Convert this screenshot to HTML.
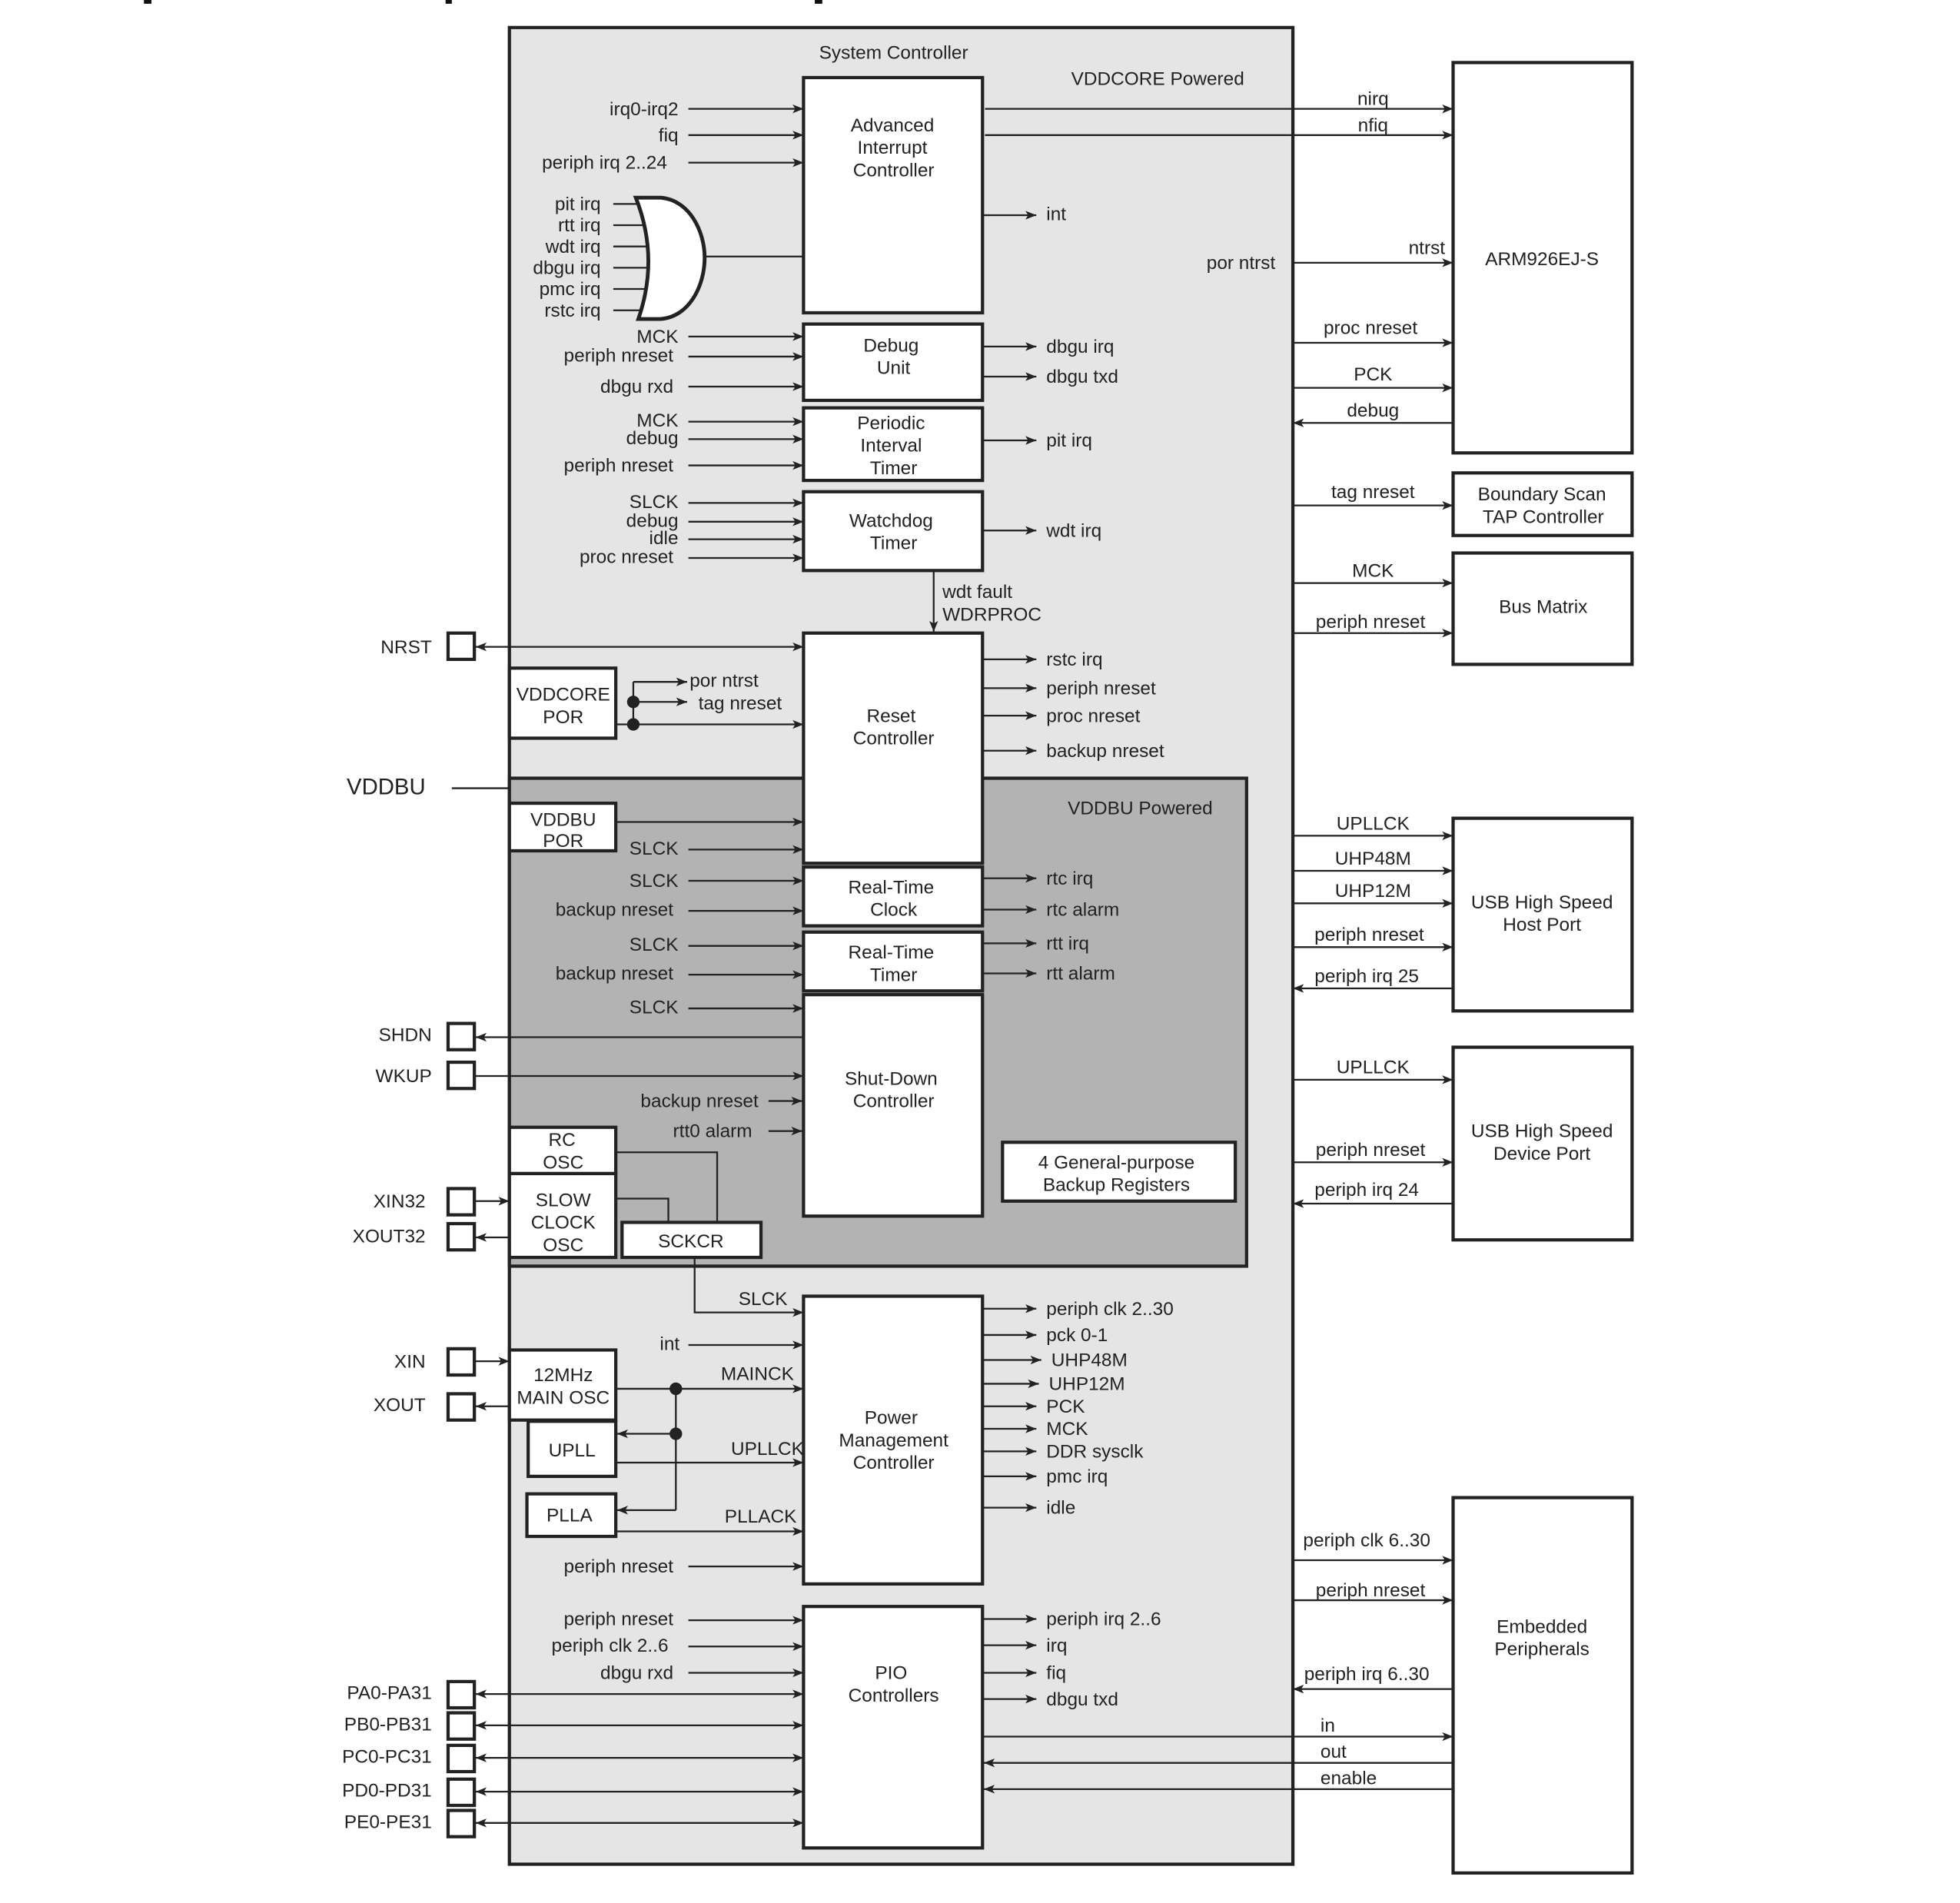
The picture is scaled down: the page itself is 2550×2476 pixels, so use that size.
<!DOCTYPE html>
<html><head><meta charset="utf-8"><style>
html,body{margin:0;padding:0;background:#fff;}
svg{display:block;}
text{font-family:"Liberation Sans",Arial,sans-serif;font-size:15px;fill:#222;}
.e{text-anchor:end;}
.m{text-anchor:middle;}
.ln{stroke:#222;stroke-width:1.4;fill:none;}
.bx{fill:#fff;stroke:#222;stroke-width:2.6;}
</style></head><body>
<svg width="2550" height="2476" viewBox="0 0 1566 1521" preserveAspectRatio="none" xmlns="http://www.w3.org/2000/svg">
<defs>
<marker id="a" viewBox="0 0 10 8" refX="10" refY="4" markerWidth="9" markerHeight="7" markerUnits="userSpaceOnUse" orient="auto-start-reverse"><path d="M0,0 L10,4 L0,8 L2.5,4 z" fill="#222"/></marker>
</defs>
<rect x="0" y="0" width="1566" height="1521" fill="#fff"/>
<!-- title fragments -->
<rect x="115" y="0" width="6" height="3" fill="#111"/>
<rect x="356" y="0" width="5" height="3" fill="#111"/>
<rect x="651" y="0" width="6" height="3" fill="#111"/>

<!-- outer regions -->
<rect x="407" y="22" width="626" height="1468" fill="#e5e5e5" stroke="#222" stroke-width="2.6"/>
<rect x="407" y="622" width="589" height="390" fill="#b3b3b3" stroke="#222" stroke-width="2.6"/>

<text class="m" x="714" y="47">System Controller</text>
<text class="m" x="925" y="68">VDDCORE Powered</text>
<text class="m" x="911" y="651">VDDBU Powered</text>

<!-- OR gate inputs -->
<g class="ln">
<line x1="490" y1="163" x2="516" y2="163"/>
<line x1="490" y1="180" x2="518" y2="180"/>
<line x1="490" y1="197" x2="518" y2="197"/>
<line x1="490" y1="214" x2="518" y2="214"/>
<line x1="490" y1="231" x2="518" y2="231"/>
<line x1="490" y1="248" x2="516" y2="248"/>
<line x1="563" y1="205" x2="642" y2="205"/>
</g>
<path d="M508,158 L528,158 C551,160 563,185 563,206 C563,228 551,253 528,255 L510,255 Q527,206 508,158 Z" fill="#fff" stroke="#222" stroke-width="3"/>

<!-- input arrows (left of column) -->
<g class="ln" marker-end="url(#a)">
<line x1="550" y1="87" x2="642" y2="87"/>
<line x1="550" y1="108" x2="642" y2="108"/>
<line x1="550" y1="130" x2="642" y2="130"/>
<line x1="550" y1="269" x2="642" y2="269"/>
<line x1="550" y1="285" x2="642" y2="285"/>
<line x1="550" y1="309" x2="642" y2="309"/>
<line x1="550" y1="337" x2="642" y2="337"/>
<line x1="550" y1="351" x2="642" y2="351"/>
<line x1="550" y1="372" x2="642" y2="372"/>
<line x1="550" y1="402" x2="642" y2="402"/>
<line x1="550" y1="417" x2="642" y2="417"/>
<line x1="550" y1="431" x2="642" y2="431"/>
<line x1="550" y1="446" x2="642" y2="446"/>
<line x1="492" y1="657" x2="642" y2="657"/>
<line x1="550" y1="679" x2="642" y2="679"/>
<line x1="550" y1="704" x2="642" y2="704"/>
<line x1="550" y1="728" x2="642" y2="728"/>
<line x1="550" y1="756" x2="642" y2="756"/>
<line x1="550" y1="779" x2="642" y2="779"/>
<line x1="550" y1="806" x2="642" y2="806"/>
<line x1="614" y1="880" x2="641" y2="880"/>
<line x1="614" y1="904" x2="641" y2="904"/>
<line x1="550" y1="1075" x2="642" y2="1075"/>
<line x1="550" y1="1252" x2="642" y2="1252"/>
<line x1="550" y1="1295" x2="642" y2="1295"/>
<line x1="550" y1="1316" x2="642" y2="1316"/>
<line x1="550" y1="1337" x2="642" y2="1337"/>
<!-- outputs -->
<line x1="785" y1="172" x2="828" y2="172"/>
<line x1="785" y1="277" x2="828" y2="277"/>
<line x1="785" y1="301" x2="828" y2="301"/>
<line x1="785" y1="352" x2="828" y2="352"/>
<line x1="785" y1="424" x2="828" y2="424"/>
<line x1="785" y1="527" x2="828" y2="527"/>
<line x1="785" y1="550" x2="828" y2="550"/>
<line x1="785" y1="572" x2="828" y2="572"/>
<line x1="785" y1="600" x2="828" y2="600"/>
<line x1="785" y1="702" x2="828" y2="702"/>
<line x1="785" y1="727" x2="828" y2="727"/>
<line x1="785" y1="754" x2="828" y2="754"/>
<line x1="785" y1="778" x2="828" y2="778"/>
<line x1="785" y1="1046" x2="828" y2="1046"/>
<line x1="785" y1="1067" x2="828" y2="1067"/>
<line x1="785" y1="1087" x2="832" y2="1087"/>
<line x1="785" y1="1106" x2="830" y2="1106"/>
<line x1="785" y1="1124" x2="828" y2="1124"/>
<line x1="785" y1="1142" x2="828" y2="1142"/>
<line x1="785" y1="1160" x2="828" y2="1160"/>
<line x1="785" y1="1180" x2="828" y2="1180"/>
<line x1="785" y1="1205" x2="828" y2="1205"/>
<line x1="785" y1="1294" x2="828" y2="1294"/>
<line x1="785" y1="1315" x2="828" y2="1315"/>
<line x1="785" y1="1337" x2="828" y2="1337"/>
<line x1="785" y1="1358" x2="828" y2="1358"/>
<!-- to right blocks -->
<line x1="787" y1="87" x2="1161" y2="87"/>
<line x1="787" y1="108" x2="1161" y2="108"/>
<line x1="1033" y1="210" x2="1161" y2="210"/>
<line x1="1033" y1="274" x2="1161" y2="274"/>
<line x1="1033" y1="310" x2="1161" y2="310"/>
<line x1="1161" y1="338" x2="1033" y2="338"/>
<line x1="1033" y1="404" x2="1161" y2="404"/>
<line x1="1033" y1="466" x2="1161" y2="466"/>
<line x1="1033" y1="506" x2="1161" y2="506"/>
<line x1="1033" y1="668" x2="1161" y2="668"/>
<line x1="1033" y1="696" x2="1161" y2="696"/>
<line x1="1033" y1="722" x2="1161" y2="722"/>
<line x1="1033" y1="757" x2="1161" y2="757"/>
<line x1="1161" y1="790" x2="1033" y2="790"/>
<line x1="1033" y1="863" x2="1161" y2="863"/>
<line x1="1033" y1="929" x2="1161" y2="929"/>
<line x1="1161" y1="962" x2="1033" y2="962"/>
<line x1="1033" y1="1247" x2="1161" y2="1247"/>
<line x1="1033" y1="1279" x2="1161" y2="1279"/>
<line x1="1161" y1="1350" x2="1033" y2="1350"/>
<line x1="785" y1="1388" x2="1161" y2="1388"/>
<line x1="1161" y1="1409" x2="786" y2="1409"/>
<line x1="1161" y1="1430" x2="786" y2="1430"/>
<!-- misc -->
<line x1="746" y1="456" x2="746" y2="505"/>
<line x1="492" y1="579" x2="642" y2="579"/>
<line x1="506" y1="545" x2="549" y2="545"/>
<line x1="506" y1="561" x2="549" y2="561"/>
<line x1="642" y1="829" x2="380" y2="829"/>
<line x1="380" y1="860" x2="642" y2="860"/>
<line x1="380" y1="960" x2="407" y2="960"/>
<line x1="407" y1="989" x2="380" y2="989"/>
<line x1="380" y1="1088" x2="407" y2="1088"/>
<line x1="407" y1="1124" x2="380" y2="1124"/>
<line x1="492" y1="1110" x2="642" y2="1110"/>
<line x1="540" y1="1146" x2="493" y2="1146"/>
<line x1="540" y1="1207" x2="493" y2="1207"/>
<line x1="493" y1="1169" x2="642" y2="1169"/>
<line x1="493" y1="1224" x2="642" y2="1224"/>
<polyline points="555,1005 555,1049 642,1049"/>
</g>
<!-- double arrows -->
<g class="ln" marker-start="url(#a)" marker-end="url(#a)">
<line x1="380" y1="517" x2="642" y2="517"/>
<line x1="380" y1="1354" x2="642" y2="1354"/>
<line x1="380" y1="1379" x2="642" y2="1379"/>
<line x1="380" y1="1405" x2="642" y2="1405"/>
<line x1="380" y1="1432" x2="642" y2="1432"/>
<line x1="380" y1="1457" x2="642" y2="1457"/>
</g>
<!-- plain lines -->
<g class="ln">
<line x1="361" y1="630" x2="407" y2="630"/>
<line x1="506" y1="545" x2="506" y2="579"/>
<line x1="540" y1="1110" x2="540" y2="1207"/>
<polyline points="492,921 573,921 573,977"/>
<polyline points="492,958 534,958 534,977"/>
</g>
<circle cx="506" cy="561" r="5" fill="#222"/>
<circle cx="506" cy="579" r="5" fill="#222"/>
<circle cx="540" cy="1110" r="5" fill="#222"/>
<circle cx="540" cy="1146" r="5" fill="#222"/>

<!-- boxes -->
<g class="bx">
<rect x="642" y="62" width="143" height="188"/>
<rect x="642" y="259" width="143" height="61"/>
<rect x="642" y="326" width="143" height="58"/>
<rect x="642" y="393" width="143" height="63"/>
<rect x="642" y="506" width="143" height="184"/>
<rect x="642" y="693" width="143" height="47"/>
<rect x="642" y="745" width="143" height="47"/>
<rect x="642" y="795" width="143" height="177"/>
<rect x="642" y="1036" width="143" height="230"/>
<rect x="642" y="1284" width="143" height="193"/>
<rect x="407" y="534" width="85" height="56"/>
<rect x="407" y="642" width="85" height="38"/>
<rect x="407" y="901" width="85" height="37"/>
<rect x="407" y="938" width="85" height="67"/>
<rect x="497" y="977" width="111" height="28"/>
<rect x="801" y="913" width="186" height="47"/>
<rect x="407" y="1079" width="85" height="56"/>
<rect x="422" y="1136" width="70" height="44"/>
<rect x="421" y="1194" width="71" height="34"/>
<rect x="1161" y="50" width="143" height="312"/>
<rect x="1161" y="378" width="143" height="50"/>
<rect x="1161" y="442" width="143" height="89"/>
<rect x="1161" y="654" width="143" height="154"/>
<rect x="1161" y="837" width="143" height="154"/>
<rect x="1161" y="1197" width="143" height="300"/>
<!-- pins -->
<rect x="358" y="506" width="21" height="21"/>
<rect x="358" y="818" width="21" height="21"/>
<rect x="358" y="849" width="21" height="21"/>
<rect x="358" y="950" width="21" height="21"/>
<rect x="358" y="978" width="21" height="21"/>
<rect x="358" y="1078" width="21" height="21"/>
<rect x="358" y="1114" width="21" height="21"/>
<rect x="358" y="1344" width="21" height="21"/>
<rect x="358" y="1369" width="21" height="21"/>
<rect x="358" y="1395" width="21" height="21"/>
<rect x="358" y="1422" width="21" height="21"/>
<rect x="358" y="1447" width="21" height="21"/>
</g>

<!-- box labels -->
<g class="m">
<text x="713" y="105">Advanced</text>
<text x="713" y="123">Interrupt</text>
<text x="714" y="141">Controller</text>
<text x="712" y="281">Debug</text>
<text x="714" y="299">Unit</text>
<text x="712" y="343">Periodic</text>
<text x="712" y="361">Interval</text>
<text x="714" y="379">Timer</text>
<text x="712" y="421">Watchdog</text>
<text x="714" y="439">Timer</text>
<text x="712" y="577">Reset</text>
<text x="714" y="595">Controller</text>
<text x="712" y="714">Real-Time</text>
<text x="714" y="732">Clock</text>
<text x="712" y="766">Real-Time</text>
<text x="714" y="784">Timer</text>
<text x="712" y="867">Shut-Down</text>
<text x="714" y="885">Controller</text>
<text x="712" y="1138">Power</text>
<text x="714" y="1156">Management</text>
<text x="714" y="1174">Controller</text>
<text x="712" y="1342">PIO</text>
<text x="714" y="1360">Controllers</text>
<text x="450" y="560">VDDCORE</text>
<text x="450" y="578">POR</text>
<text x="450" y="660">VDDBU</text>
<text x="450" y="677">POR</text>
<text x="449" y="916">RC</text>
<text x="450" y="934">OSC</text>
<text x="450" y="964">SLOW</text>
<text x="450" y="982">CLOCK</text>
<text x="450" y="1000">OSC</text>
<text x="552" y="997">SCKCR</text>
<text x="892" y="934">4 General-purpose</text>
<text x="892" y="952">Backup Registers</text>
<text x="450" y="1104">12MHz</text>
<text x="450" y="1122">MAIN OSC</text>
<text x="457" y="1164">UPLL</text>
<text x="455" y="1216">PLLA</text>
<text x="1232" y="212">ARM926EJ-S</text>
<text x="1232" y="400">Boundary Scan</text>
<text x="1233" y="418">TAP Controller</text>
<text x="1233" y="490">Bus Matrix</text>
<text x="1232" y="726">USB High Speed</text>
<text x="1232" y="744">Host Port</text>
<text x="1232" y="909">USB High Speed</text>
<text x="1232" y="927">Device Port</text>
<text x="1232" y="1305">Embedded</text>
<text x="1232" y="1323">Peripherals</text>
<!-- right line labels -->
<text x="1097" y="84">nirq</text>
<text x="1097" y="105">nfiq</text>
<text x="1140" y="203">ntrst</text>
<text x="1095" y="267">proc nreset</text>
<text x="1097" y="304">PCK</text>
<text x="1097" y="333">debug</text>
<text x="1097" y="398">tag nreset</text>
<text x="1097" y="461">MCK</text>
<text x="1095" y="502">periph nreset</text>
<text x="1097" y="663">UPLLCK</text>
<text x="1097" y="691">UHP48M</text>
<text x="1097" y="717">UHP12M</text>
<text x="1094" y="752">periph nreset</text>
<text x="1092" y="785">periph irq 25</text>
<text x="1097" y="858">UPLLCK</text>
<text x="1095" y="924">periph nreset</text>
<text x="1092" y="956">periph irq 24</text>
<text x="1092" y="1236">periph clk 6..30</text>
<text x="1095" y="1276">periph nreset</text>
<text x="1092" y="1343">periph irq 6..30</text>
</g>

<!-- left labels (end aligned) -->
<g class="e">
<text x="542" y="92">irq0-irq2</text>
<text x="542" y="113">fiq</text>
<text x="533" y="135">periph irq 2..24</text>
<text x="480" y="168">pit irq</text>
<text x="480" y="185">rtt irq</text>
<text x="480" y="202">wdt irq</text>
<text x="480" y="219">dbgu irq</text>
<text x="480" y="236">pmc irq</text>
<text x="480" y="253">rstc irq</text>
<text x="542" y="274">MCK</text>
<text x="538" y="289">periph nreset</text>
<text x="538" y="314">dbgu rxd</text>
<text x="542" y="341">MCK</text>
<text x="542" y="355">debug</text>
<text x="538" y="377">periph nreset</text>
<text x="542" y="406">SLCK</text>
<text x="542" y="421">debug</text>
<text x="542" y="435">idle</text>
<text x="538" y="450">proc nreset</text>
<text x="1019" y="215">por ntrst</text>
<text x="345" y="522">NRST</text>
<text x="542" y="683">SLCK</text>
<text x="542" y="709">SLCK</text>
<text x="538" y="732">backup nreset</text>
<text x="542" y="760">SLCK</text>
<text x="538" y="783">backup nreset</text>
<text x="542" y="810">SLCK</text>
<text x="606" y="885">backup nreset</text>
<text x="601" y="909">rtt0 alarm</text>
<text x="345" y="832">SHDN</text>
<text x="345" y="865">WKUP</text>
<text x="340" y="965">XIN32</text>
<text x="340" y="993">XOUT32</text>
<text x="340" y="1093">XIN</text>
<text x="340" y="1128">XOUT</text>
<text x="543" y="1079">int</text>
<text x="538" y="1257">periph nreset</text>
<text x="538" y="1299">periph nreset</text>
<text x="534" y="1320">periph clk 2..6</text>
<text x="538" y="1342">dbgu rxd</text>
<text x="345" y="1358">PA0-PA31</text>
<text x="345" y="1383">PB0-PB31</text>
<text x="345" y="1409">PC0-PC31</text>
<text x="345" y="1436">PD0-PD31</text>
<text x="345" y="1461">PE0-PE31</text>
</g>

<!-- start aligned labels -->
<text x="836" y="176">int</text>
<text x="836" y="282">dbgu irq</text>
<text x="836" y="306">dbgu txd</text>
<text x="836" y="357">pit irq</text>
<text x="836" y="429">wdt irq</text>
<text x="753" y="478">wdt fault</text>
<text x="753" y="496">WDRPROC</text>
<text x="836" y="532">rstc irq</text>
<text x="836" y="555">periph nreset</text>
<text x="836" y="577">proc nreset</text>
<text x="836" y="605">backup nreset</text>
<text x="551" y="549">por ntrst</text>
<text x="558" y="567">tag nreset</text>
<text x="277" y="635" style="font-size:18px">VDDBU</text>
<text x="836" y="707">rtc irq</text>
<text x="836" y="732">rtc alarm</text>
<text x="836" y="759">rtt irq</text>
<text x="836" y="783">rtt alarm</text>
<text x="590" y="1043">SLCK</text>
<text x="576" y="1103">MAINCK</text>
<text x="584" y="1163">UPLLCK</text>
<text x="579" y="1217">PLLACK</text>
<text x="836" y="1051">periph clk 2..30</text>
<text x="836" y="1072">pck 0-1</text>
<text x="840" y="1092">UHP48M</text>
<text x="838" y="1111">UHP12M</text>
<text x="836" y="1129">PCK</text>
<text x="836" y="1147">MCK</text>
<text x="836" y="1165">DDR sysclk</text>
<text x="836" y="1185">pmc irq</text>
<text x="836" y="1210">idle</text>
<text x="836" y="1299">periph irq 2..6</text>
<text x="836" y="1320">irq</text>
<text x="836" y="1342">fiq</text>
<text x="836" y="1363">dbgu txd</text>
<text x="1055" y="1384">in</text>
<text x="1055" y="1405">out</text>
<text x="1055" y="1426">enable</text>
</svg>
</body></html>
